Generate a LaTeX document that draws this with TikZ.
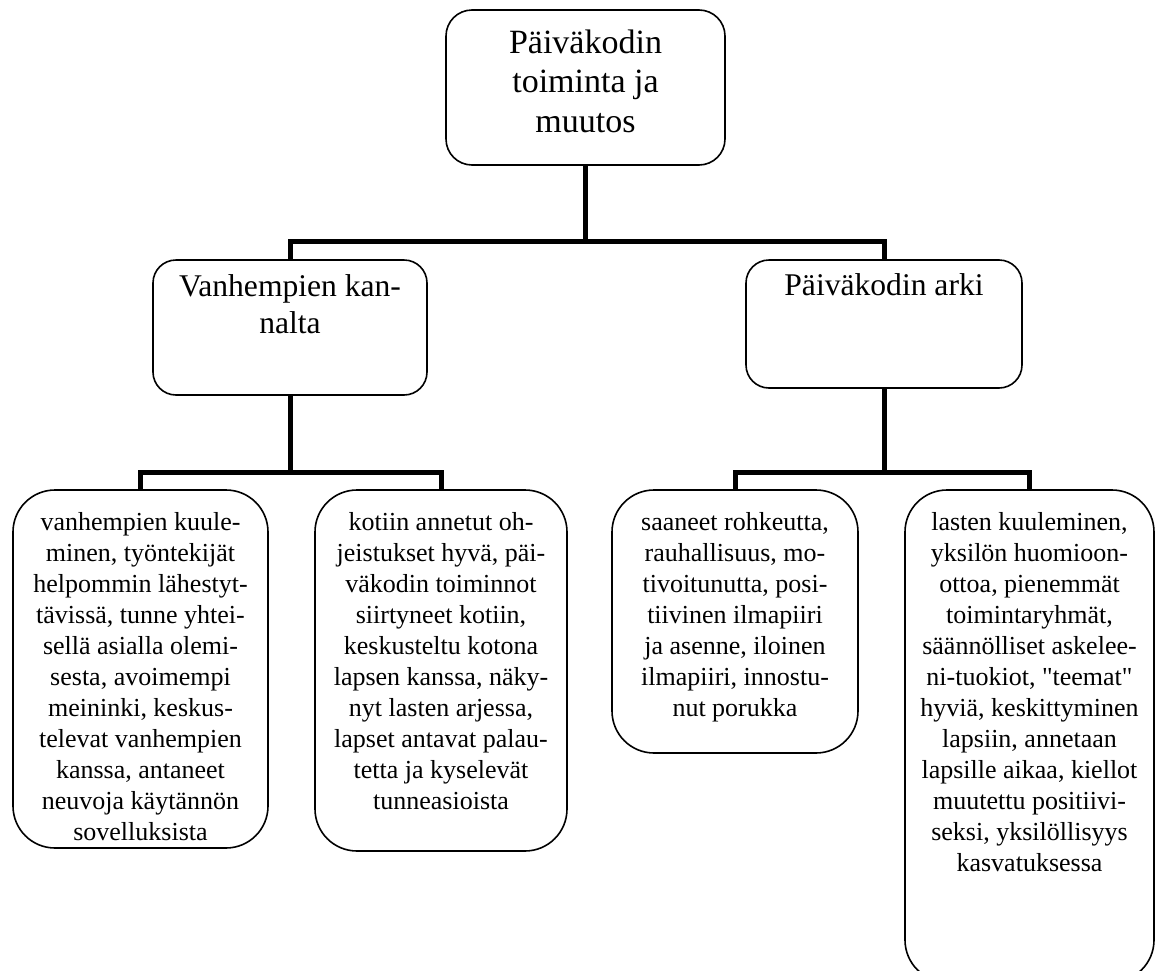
\documentclass[tikz,border=0pt]{standalone}
\usepackage{fontspec}
\setmainfont{Liberation Serif}[Ligatures=TeXOff]
\newdimen\pxu \pxu=0.75pt
% box content: width, height, top padding, font size, line skip, text
\newcommand{\boxtext}[6]{\parbox[c][#2\pxu][t]{#1\pxu}{\centering\fontsize{#4\pxu}{#5\pxu}\selectfont\vspace*{#3\pxu}\strut #6}}
\tikzset{
  rbox/.style={draw=black, line width=1.2pt, rounded corners=#1, inner sep=0pt, fill=white},
  conn/.style={line width=3.75pt, line join=miter},
}
\begin{document}
\begin{tikzpicture}[x=0.75pt,y=-0.75pt]
\clip (0,0) rectangle (1157,971);
\fill[white] (0,0) rectangle (1157,971);

% root
\node[rbox=26\pxu] (top) at (585.5,87.5)
  {\boxtext{279}{155}{15.5}{34}{39.5}{Päiväkodin\\toiminta ja\\muutos}};

% second level
\node[rbox=23\pxu] (midL) at (290,327.5)
  {\boxtext{274}{135}{10.1}{31.6}{37}{Vanhempien kan-\\nalta}};
\node[rbox=23\pxu] (midR) at (884,324)
  {\boxtext{276}{128}{9.1}{31.6}{37}{Päiväkodin arki}};

% leaves
\node[rbox=42\pxu] (leaf1) at (140.5,669)
  {\boxtext{255}{358}{18.3}{26}{31}{vanhempien kuule-\\minen, työntekijät\\helpommin lähestyt-\\tävissä, tunne yhtei-\\sellä asialla olemi-\\sesta, avoimempi\\meininki, keskus-\\televat vanhempien\\kanssa, antaneet\\neuvoja käytännön\\sovelluksista}};
\node[rbox=42\pxu] (leaf2) at (441,670.5)
  {\boxtext{252}{361}{18.3}{26}{31}{kotiin annetut oh-\\jeistukset hyvä, päi-\\väkodin toiminnot\\siirtyneet kotiin,\\keskusteltu kotona\\lapsen kanssa, näky-\\nyt lasten arjessa,\\lapset antavat palau-\\tetta ja kyselevät\\tunneasioista}};
\node[rbox=42\pxu] (leaf3) at (735,621.5)
  {\boxtext{246}{263}{18.3}{26}{31}{saaneet rohkeutta,\\rauhallisuus, mo-\\tivoitunutta, posi-\\tiivinen ilmapiiri\\ja asenne, iloinen\\ilmapiiri, innostu-\\nut porukka}};
\node[rbox=42\pxu] (leaf4) at (1029.5,736)
  {\boxtext{249}{492}{18.3}{26}{31}{lasten kuuleminen,\\yksilön huomioon-\\ottoa, pienemmät\\toimintaryhmät,\\säännölliset askelee-\\ni-tuokiot, "teemat"\\hyviä, keskittyminen\\lapsiin, annetaan\\lapsille aikaa, kiellot\\muutettu positiivi-\\seksi, yksilöllisyys\\kasvatuksessa}};

% connectors
\coordinate (lvl1) at (0,241);
\coordinate (lvl2) at (0,472);
\draw[conn] (top.south) -- (top.south |- lvl1);
\draw[conn] (midL.north) |- (midR.north |- lvl1) -- (midR.north);
\draw[conn] (midL.south) -- (midL.south |- lvl2);
\draw[conn] (leaf1.north) |- (leaf2.north |- lvl2) -- (leaf2.north);
\draw[conn] (midR.south) -- (midR.south |- lvl2);
\draw[conn] (leaf3.north) |- (leaf4.north |- lvl2) -- (leaf4.north);
\end{tikzpicture}
\end{document}
